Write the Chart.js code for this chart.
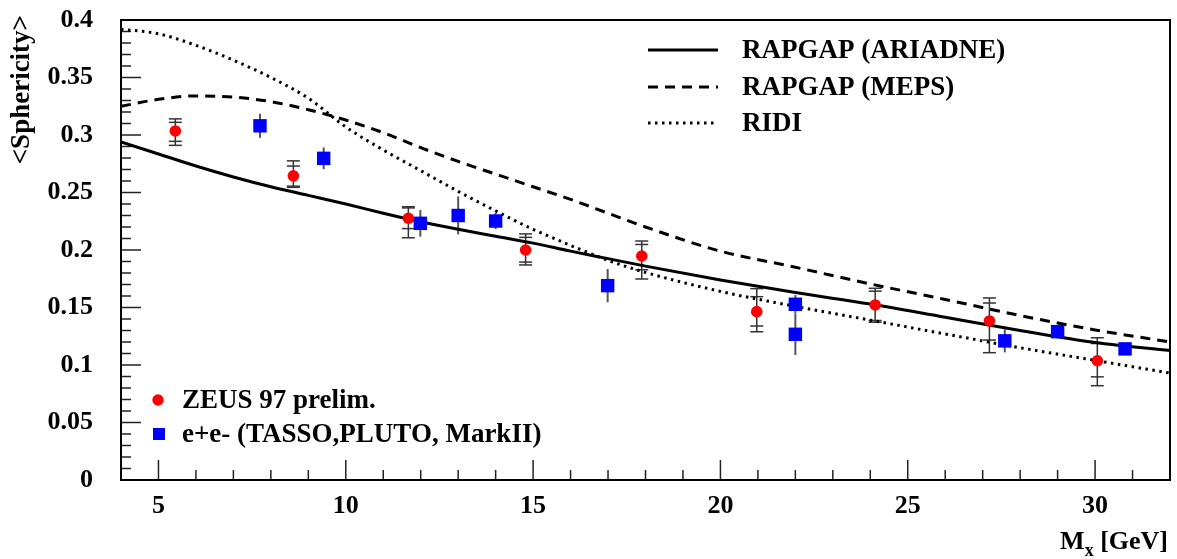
<!DOCTYPE html>
<html>
<head>
<meta charset="utf-8">
<script src="https://cdn.jsdelivr.net/npm/chart.js@4/dist/chart.umd.min.js"></script>
<style>
  body { margin: 0; background: #fff; }
  #wrap { width: 1177px; height: 559px; position: relative; }
</style>
</head>
<body>
<div id="wrap"><canvas id="chart"></canvas></div>
<script>
// model curves
var curveX  = [4, 5, 6, 7, 8, 9, 10, 11, 12, 13, 14, 15, 16, 17, 18, 20, 22, 24, 26, 28, 30, 32];
var ariadne = [0.294, 0.2835, 0.273, 0.2635, 0.255, 0.2475, 0.240, 0.232, 0.2245, 0.218, 0.212, 0.206, 0.199, 0.1925, 0.186, 0.174, 0.163, 0.153, 0.1415, 0.130, 0.1195, 0.1125];
var meps    = [0.325, 0.331, 0.334, 0.333, 0.329, 0.322, 0.313, 0.302, 0.289, 0.277, 0.266, 0.255, 0.244, 0.232, 0.220, 0.199, 0.185, 0.1705, 0.157, 0.143, 0.1305, 0.120];
var ridi    = [0.392, 0.388, 0.378, 0.365, 0.350, 0.332, 0.307, 0.287, 0.269, 0.251, 0.234, 0.218, 0.204, 0.191, 0.1805, 0.164, 0.151, 0.139, 0.127, 0.115, 0.104, 0.093];

// ZEUS 97 prelim.
var zeusX      = [5.45, 8.6, 11.67, 14.8, 17.9, 20.97, 24.13, 27.18, 30.06];
var zeusY      = [0.3035, 0.2645, 0.2276, 0.200, 0.1948, 0.1464, 0.1522, 0.1383, 0.1037];
var zeusTotUp  = [0.0105, 0.013, 0.010, 0.014, 0.013, 0.020, 0.0145, 0.020, 0.020];
var zeusTotDn  = [0.0125, 0.010, 0.017, 0.013, 0.020, 0.0175, 0.015, 0.0276, 0.0217];
var zeusStatUp = [0.0075, 0.0085, 0.009, 0.011, 0.010, 0.013, 0.012, 0.0156, 0.015];
var zeusStatDn = [0.009, 0.009, 0.009, 0.0105, 0.012, 0.0125, 0.0135, 0.0166, 0.014];

// e+e- (TASSO, PLUTO, MarkII)
var eeX   = [7.71, 9.41, 11.99, 13.0, 14.0, 16.99, 22.0, 22.0, 27.59, 29.0, 30.8];
var eeY   = [0.308, 0.2797, 0.2232, 0.230, 0.2252, 0.169, 0.1528, 0.1267, 0.121, 0.129, 0.114];
var eeErr = [0.0105, 0.0095, 0.0116, 0.0165, 0.007, 0.0145, 0.008, 0.018, 0.010, 0.003, 0.003];

var xTicks = [5, 10, 15, 20, 25, 30];
var yTicks = [0, 0.05, 0.1, 0.15, 0.2, 0.25, 0.3, 0.35, 0.4];
var modelNames = ['RAPGAP (ARIADNE)', 'RAPGAP (MEPS)', 'RIDI'];
var dataNames = ['ZEUS 97 prelim.', 'e+e- (TASSO,PLUTO, MarkII)'];

// where the frame sits in the picture
var area = { left: 121, top: 20, right: 1170, bottom: 480 };

var SERIF = '"Liberation Serif", "DejaVu Serif", serif';
var FONT = 'bold 27px ' + SERIF;
var dashes = [[], [10, 7], [2.5, 4.5]];

function pts(xs, ys) {
    return xs.map(function (x, i) { return { x: x, y: ys[i] }; });
}

var frameAndTicks = {
    id: 'frameAndTicks',
    beforeDatasetsDraw: function (chart) {
        var ctx = chart.ctx, a = chart.chartArea;
        var xs = chart.scales.x, ys = chart.scales.y;
        ctx.save();
        ctx.strokeStyle = '#222';
        ctx.lineWidth = 1.5;
        // inner ticks on x
        for (var v = 4; v <= 32; v++) {
            var px = xs.getPixelForValue(v);
            var len = (v % 5 === 0) ? 20 : 10;
            ctx.beginPath(); ctx.moveTo(px, a.bottom); ctx.lineTo(px, a.bottom - len); ctx.stroke();
        }
        // inner ticks on y
        for (var k = 0; k <= 40; k++) {
            var py = ys.getPixelForValue(k / 100);
            var l2 = (k % 5 === 0) ? 20 : 10;
            ctx.beginPath(); ctx.moveTo(a.left, py); ctx.lineTo(a.left + l2, py); ctx.stroke();
        }
        ctx.lineWidth = 2;
        ctx.strokeStyle = '#000';
        ctx.strokeRect(a.left, a.top, a.right - a.left, a.bottom - a.top);

        // error bars
        ctx.lineWidth = 1.5;
        ctx.strokeStyle = '#333';
        for (var i = 0; i < zeusX.length; i++) {
            var cx = xs.getPixelForValue(zeusX[i]);
            var top = ys.getPixelForValue(zeusY[i] + zeusTotUp[i]);
            var bot = ys.getPixelForValue(zeusY[i] - zeusTotDn[i]);
            ctx.beginPath(); ctx.moveTo(cx, top); ctx.lineTo(cx, bot); ctx.stroke();
            [zeusY[i] + zeusTotUp[i], zeusY[i] - zeusTotDn[i], zeusY[i] + zeusStatUp[i], zeusY[i] - zeusStatDn[i]].forEach(function (yv) {
                var p = ys.getPixelForValue(yv);
                ctx.beginPath(); ctx.moveTo(cx - 6.5, p); ctx.lineTo(cx + 6.5, p); ctx.stroke();
            });
        }
        ctx.strokeStyle = '#555';
        ctx.lineWidth = 2;
        for (var j = 0; j < eeX.length; j++) {
            var ex = xs.getPixelForValue(eeX[j]);
            ctx.beginPath();
            ctx.moveTo(ex, ys.getPixelForValue(eeY[j] + eeErr[j]));
            ctx.lineTo(ex, ys.getPixelForValue(eeY[j] - eeErr[j]));
            ctx.stroke();
        }
        ctx.restore();
    },
    afterDraw: function (chart) {
        var ctx = chart.ctx;
        ctx.save();
        ctx.font = FONT;
        ctx.fillStyle = '#000';
        ctx.textBaseline = 'middle';
        // model legend (top right)
        var ly = [50, 87, 123];
        for (var i = 0; i < 3; i++) {
            ctx.strokeStyle = '#000';
            ctx.lineWidth = 3;
            ctx.setLineDash(dashes[i]);
            ctx.beginPath(); ctx.moveTo(648, ly[i]); ctx.lineTo(718, ly[i]); ctx.stroke();
            ctx.setLineDash([]);
            ctx.textAlign = 'left';
            ctx.fillText(modelNames[i], 742, ly[i] + 1);
        }
        // data legend (bottom left)
        ctx.fillStyle = '#ff0000';
        ctx.beginPath(); ctx.arc(158, 400, 5.7, 0, Math.PI * 2); ctx.fill();
        ctx.fillStyle = '#0000ff';
        ctx.fillRect(153, 428, 12, 12);
        ctx.fillStyle = '#000';
        ctx.fillText(dataNames[0], 182, 401);
        ctx.fillText(dataNames[1], 182, 435);

        // y title
        ctx.save();
        ctx.translate(22, 15);
        ctx.rotate(-Math.PI / 2);
        ctx.textAlign = 'right';
        ctx.fillText('<Sphericity>', 0, 0);
        ctx.restore();

        // x title M_x [GeV], right aligned
        ctx.font = 'bold 26px ' + SERIF;
        var w1 = ctx.measureText('M').width;
        var w3 = ctx.measureText(' [GeV]').width;
        ctx.font = 'bold 18px ' + SERIF;
        var w2 = ctx.measureText('x').width;
        var x0 = 1168 - w1 - w2 - w3;
        ctx.textAlign = 'left';
        ctx.textBaseline = 'alphabetic';
        ctx.fillText('x', x0 + w1, 556);
        ctx.font = 'bold 26px ' + SERIF;
        ctx.fillText('M', x0, 549);
        ctx.fillText(' [GeV]', x0 + w1 + w2, 549);
        ctx.restore();
    }
};

var datasets = [
    { data: pts(zeusX, zeusY), showLine: false, pointStyle: 'circle', pointRadius: 5.8, pointBackgroundColor: '#ff0000', pointBorderWidth: 0, order: 1 },
    { data: pts(eeX, eeY), showLine: false, pointStyle: 'rect', pointRadius: 9.5, pointBackgroundColor: '#0000ff', pointBorderWidth: 0, order: 1 },
    { data: pts(curveX, ariadne), showLine: true, borderColor: '#000', borderWidth: 3, pointRadius: 0, cubicInterpolationMode: 'monotone', order: 2 },
    { data: pts(curveX, meps), showLine: true, borderColor: '#000', borderWidth: 3, borderDash: dashes[1], pointRadius: 0, cubicInterpolationMode: 'monotone', order: 2 },
    { data: pts(curveX, ridi), showLine: true, borderColor: '#000', borderWidth: 3, borderDash: dashes[2], pointRadius: 0, cubicInterpolationMode: 'monotone', order: 2 }
];

var tickFont = { family: SERIF, size: 26, weight: 'bold' };

var chart = new Chart(document.getElementById('chart'), {
    type: 'scatter',
    data: { datasets: datasets },
    options: {
        responsive: true,
        maintainAspectRatio: false,
        animation: false,
        layout: { autoPadding: false, padding: { top: area.top, right: 1177 - area.right, left: 0, bottom: 0 } },
        plugins: { legend: { display: false }, tooltip: { enabled: false } },
        scales: {
            x: {
                type: 'linear', min: 4, max: 32,
                grid: { display: false, drawTicks: false },
                border: { display: false },
                ticks: { color: '#000', font: tickFont, padding: 11, maxRotation: 0 },
                afterBuildTicks: function (s) { s.ticks = xTicks.map(function (v) { return { value: v }; }); },
                afterFit: function (s) { s.height = 559 - area.bottom; s.paddingLeft = 0; s.paddingRight = 0; }
            },
            y: {
                type: 'linear', min: 0, max: 0.4,
                grid: { display: false, drawTicks: false },
                border: { display: false },
                ticks: {
                    color: '#000', font: tickFont, padding: 28,
                    callback: function (v) { return String(+v.toFixed(2)); }
                },
                afterBuildTicks: function (s) { s.ticks = yTicks.map(function (v) { return { value: v }; }); },
                afterFit: function (s) { s.width = area.left; s.paddingTop = 0; s.paddingBottom = 0; }
            }
        }
    },
    plugins: [frameAndTicks]
});

// nudge the layout padding so the frame lands where it is in the picture
var ca = chart.chartArea;
if (ca && (Math.abs(ca.top - area.top) > 0.5 || Math.abs(ca.bottom - area.bottom) > 0.5)) {
    var p = chart.options.layout.padding;
    p.top = Math.max(0, p.top - (ca.top - area.top));
    p.bottom = Math.max(0, p.bottom + (ca.bottom - area.bottom));
    chart.update();
}
</script>
</body>
</html>
